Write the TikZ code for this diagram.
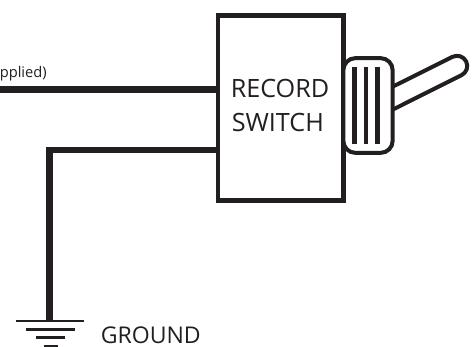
\documentclass[tikz,border=0pt]{standalone}
\usepackage{fontspec}
\setmainfont{Open Sans}
\definecolor{ink}{HTML}{231F20}
\begin{document}
\begin{tikzpicture}[x=0.75pt,y=-0.75pt,
  wire/.style={draw=ink,line width=5.2pt},
  thinpart/.style={draw=ink,line width=3pt,line join=round},
  groundbar/.style={draw=ink,line width=2pt},
  lbl/.style={text=ink,inner sep=0pt}]
\useasboundingbox (0,0) rectangle (476,347);
\clip (0,0) rectangle (476,347);
% handle
\draw[thinpart] (390,88) -- (452.4,56.9) arc[start angle=-117,end angle=63,radius=10.2] -- (390,111);
% switch body
\coordinate (swnw) at (218,15.5);
\coordinate (swse) at (343.5,200.5);
\draw[draw=ink,line width=3.6pt,fill=white] (swnw) rectangle (swse);
\node[lbl,anchor=base west,font=\fontsize{18.9}{18.9}\selectfont] (t1) at (230.5,97) {RECORD};
\node[lbl,anchor=base west,font=\fontsize{18.9}{18.9}\selectfont] (t2) at (231.5,131) {SWITCH};
% lever cap
\node[draw=ink,line width=3pt,fill=white,rounded corners=9pt,minimum width=37pt,minimum height=71pt,inner sep=0pt] (cap) at (368,105.5) {};
\foreach \x/\n in {354.5/a,366/b,377.5/c}{
  \coordinate (\n1) at (\x,67); \coordinate (\n2) at (\x,144);
  \draw[draw=ink,line width=3.5pt] (\n1) -- (\n2);}
% wires
\coordinate (w1) at (0,89.5);
\coordinate (w1e) at (218,89.5);
\draw[wire] (w1) -- (w1e);
\coordinate (w2) at (218,150);
\coordinate (w3) at (49.7,150);
\coordinate (g0) at (49.7,321);
\draw[wire,line join=miter] (w2) -- (w3) -- (g0);
% ground
\coordinate (g1a) at (16,321); \coordinate (g1b) at (84,321);
\coordinate (g2a) at (26,329.5); \coordinate (g2b) at (75,329.5);
\coordinate (g3a) at (36,337.5); \coordinate (g3b) at (65,337.5);
\coordinate (g4a) at (43.5,346); \coordinate (g4b) at (57.5,346);
\draw[groundbar] (g1a) -- (g1b);
\draw[groundbar] (g2a) -- (g2b);
\draw[groundbar] (g3a) -- (g3b);
\draw[groundbar] (g4a) -- (g4b);
\node[lbl,anchor=base west,font=\fontsize{17.3}{17.3}\selectfont] (gnd) at (100.5,343) {GROUND};
\node[lbl,anchor=base east,font=\fontsize{11}{11}\selectfont] (ap) at (47,77) {pplied)};
\end{tikzpicture}
\end{document}
